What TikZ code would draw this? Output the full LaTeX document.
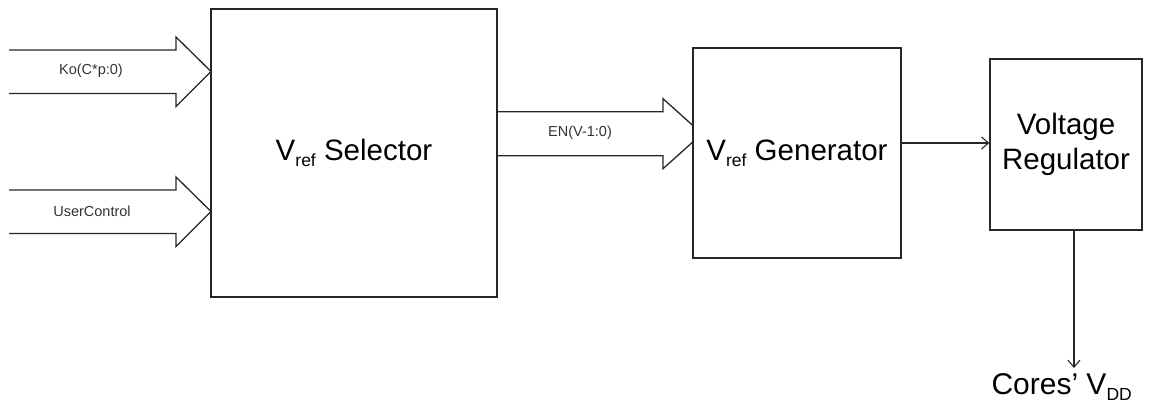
\documentclass[tikz,border=0pt]{standalone}
\usepackage{fontspec}
\setmainfont{Liberation Sans}
\usetikzlibrary{arrows.meta,calc}
\newcommand{\mysub}[1]{\raisebox{-0.2em}{\fontsize{17.5}{17.5}\selectfont #1}}
\begin{document}
\begin{tikzpicture}[x=1pt,y=-1pt,
  block/.style={draw=black!85,line width=1.3pt,fill=white,inner sep=0pt,align=center,
    font=\fontsize{29.5}{35}\selectfont},
  bigarrow/.style={draw=black!85,line width=1.3pt,line join=miter},
  smalllabel/.style={font=\fontsize{14.5}{16}\selectfont,text=black!80,inner sep=0pt},
  wire/.style={draw=black!85,line width=1.3pt,-{Straight Barb[length=7pt,width=12pt,line width=1.1pt]}}]
\useasboundingbox (0,0) rectangle (1156,404);
% block arrows (drawn first, boxes cover tips)
\coordinate (kotip) at (211,71.5);
\coordinate (uctip) at (211,211.5);
\coordinate (entip) at (702,133.7);
\draw[bigarrow] ($(kotip)+(-202,-21.5)$) -- ++(167,0) -- ++(0,-13) -- (kotip)
  -- ($(kotip)+(-35,35)$) -- ++(0,-13) -- ++(-167,0);
\draw[bigarrow] ($(uctip)+(-202,-21.5)$) -- ++(167,0) -- ++(0,-13) -- (uctip)
  -- ($(uctip)+(-35,35)$) -- ++(0,-13) -- ++(-167,0);
\draw[bigarrow] ($(entip)+(-205,-22)$) -- ++(166,0) -- ++(0,-13) -- (entip)
  -- ($(entip)+(-39,35)$) -- ++(0,-13) -- ++(-166,0);
\node[smalllabel] (kolab) at (91,71) {Ko(C*p:0)};
\node[smalllabel] (uclab) at (92,211) {UserControl};
\node[smalllabel] (enlab) at (580,133) {EN(V-1:0)};
% blocks
\node[block,minimum width=286pt,minimum height=288pt] (sel) at (354,153)
  {V\mysub{ref} Selector};
\node[block,minimum width=208pt,minimum height=210pt] (gen) at (797,153)
  {V\mysub{ref} Generator};
\node[block,minimum width=152pt,minimum height=171pt] (reg) at (1066,144.5)
  {Voltage\\Regulator};
% wires
\draw[wire] (gen.east |- 0,143) -- (reg.west |- 0,143);
\coordinate (vddtip) at (1074,368);
\draw[wire] (reg.south -| vddtip) -- (vddtip);
\node[font=\fontsize{30}{35}\selectfont,inner sep=0pt,anchor=base east] (vdd) at (1132,394)
  {Cores’ V\mysub{DD}};
\end{tikzpicture}
\end{document}
